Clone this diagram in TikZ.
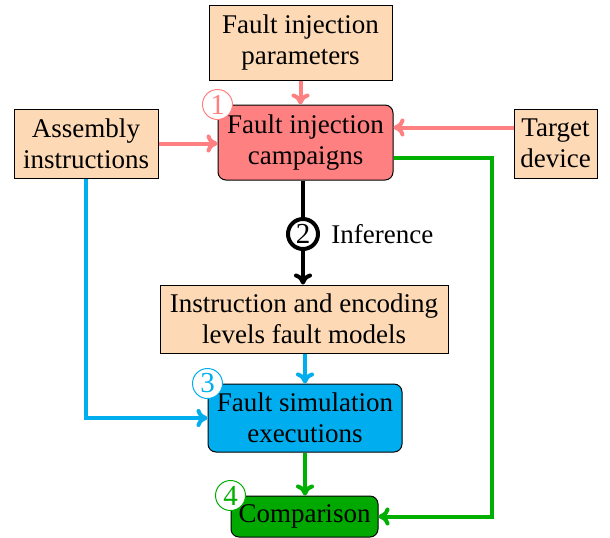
\documentclass[tikz,border=0pt]{standalone}
\usepackage{fontspec}
\setmainfont{Liberation Serif}
\usetikzlibrary{arrows.meta,calc}
\definecolor{peach}{HTML}{FDD9B5}
\definecolor{pinkred}{HTML}{FF8080}
\definecolor{skyb}{HTML}{00AEEF}
\definecolor{grn}{HTML}{00A800}
\definecolor{grnline}{HTML}{00B000}
\begin{document}
\begin{tikzpicture}[x=0.5pt,y=-0.5pt,
  font=\fontsize{13.5}{15.5}\selectfont,
  box/.style={draw=black,line width=0.5pt,align=center,inner sep=0pt},
  plain/.style={box,fill=peach},
  rbox/.style={box,rounded corners=4pt},
  num/.style={circle,draw,fill=white,line width=0.5pt,minimum size=15pt,inner sep=0pt,font=\fontsize{14.5}{15}\selectfont},
  conn/.style={line width=2pt,-{To[length=5.5pt,width=9pt]}},
]
\useasboundingbox (0,0) rectangle (610,537);
\node[plain,minimum width=91.5pt,minimum height=37.5pt] (fip) at (300.5,42.5) {Fault injection\\parameters};
\node[rbox,fill=pinkred,minimum width=87.5pt,minimum height=37.5pt] (fic) at (305.5,142.5) {Fault injection\\campaigns};
\node[plain,minimum width=72pt,minimum height=34.5pt] (asm) at (86,143.5) {Assembly\\instructions};
\node[plain,minimum width=41.5pt,minimum height=34.5pt] (tgt) at (555.5,143.5) {Target\\device};
\node[plain,minimum width=144pt,minimum height=34pt] (iel) at (304,319) {Instruction and encoding\\levels fault models};
\node[rbox,fill=skyb,minimum width=97pt,minimum height=34pt] (fse) at (305,418) {Fault simulation\\executions};
\node[rbox,fill=grn,minimum width=73.5pt,minimum height=20.5pt] (cmp) at (304.5,516.5) {Comparison};
\node[circle,draw=black,fill=white,line width=2pt,minimum size=15pt,inner sep=0pt,font=\fontsize{14.5}{15}\selectfont] (c2) at (303,234) {2};
\node[anchor=west,inner sep=0pt] (inf) at (331,234) {Inference};

\draw[conn,pinkred] (fip.south) -- (fip.south |- fic.north);
\draw[conn,pinkred] (asm.east) -- (asm.east -| fic.west);
\coordinate (tin) at ($(fic.east)+(0,7.5pt)$);
\draw[conn,pinkred] (tgt.west |- tin) -- (tin);
\coordinate (gout) at ($(fic.east)+(0,-7.5pt)$);
\coordinate (gc) at (492,0);
\draw[conn,grnline] (gout) -- (gout -| gc) -- (gc |- cmp.east) -- (cmp.east);
\draw[conn,skyb] (asm.south) -- (asm.south |- fse.west) -- (fse.west);
\draw[line width=2pt] (fic.south -| c2) -- (c2);
\draw[conn] (c2) -- (c2 |- iel.north);
\draw[conn,skyb] (iel.south -| fse.north) -- (fse.north);
\draw[conn,grnline] (fse.south) -- (cmp.north -| fse.south);

\node[num,draw=pinkred,text=pinkred] (n1) at (fic.north west) {1};
\node[num,draw=skyb,text=skyb] (n3) at (fse.north west) {3};
\node[num,draw=grnline,text=grnline] (n4) at (cmp.north west) {4};
\end{tikzpicture}
\end{document}
